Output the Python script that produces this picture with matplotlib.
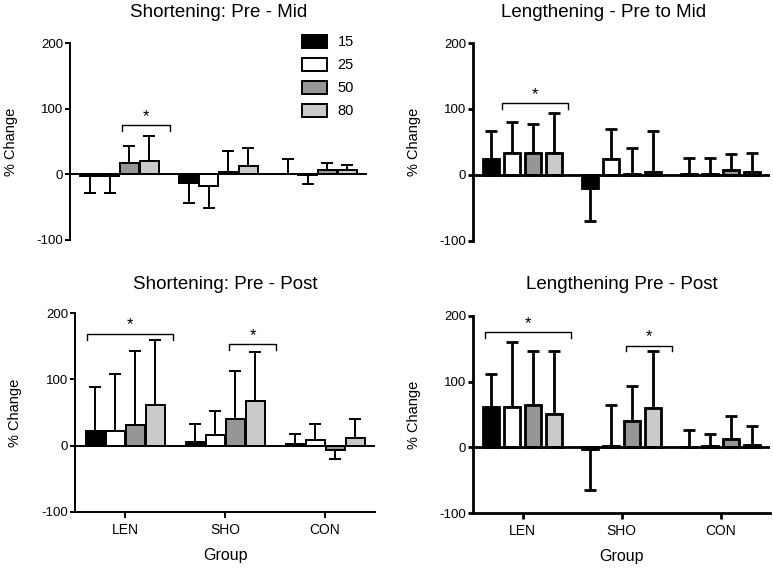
import matplotlib
matplotlib.use('Agg')
import matplotlib.pyplot as plt
import numpy as np

plt.rcParams['font.family'] = ['Liberation Sans', 'DejaVu Sans']
plt.rcParams['axes.unicode_minus'] = False

groups = ['LEN', 'SHO', 'CON']
intensities = ['15', '25', '50', '80']
colors = ['black', 'white', '#969696', '#cacaca']

# rows = groups (LEN, SHO, CON), columns = intensities (15, 25, 50, 80)
sho_mid_mean = [[-3, -3, 17, 20], [-13, -18, 4, 13], [1, -1, 7, 7]]
sho_mid_sd = [[26, 26, 26, 38], [31, 34, 32, 27], [22, 14, 10, 7]]

len_mid_mean = [[24, 34, 34, 34], [-19, 24, 2, 5], [2, 1, 8, 5]]
len_mid_sd = [[42, 46, 44, 60], [51, 45, 39, 61], [23, 25, 24, 29]]

sho_post_mean = [[22, 22, 31, 61], [5, 16, 40, 68], [2, 9, -6, 11]]
sho_post_sd = [[66, 86, 112, 98], [27, 37, 73, 73], [15, 23, 14, 29]]

len_post_mean = [[61, 62, 64, 51], [-3, 2, 40, 60], [0.5, 2, 12, 4]]
len_post_sd = [[51, 98, 83, 95], [62, 63, 54, 86], [25.5, 19, 36, 29]]

# significance brackets: (x start, x end, height)
sho_mid_sig = [(0.025, 0.51, 75)]
len_mid_sig = [(-0.21, 0.455, 109)]
sho_post_sig = [(-0.38, 0.48, 169), (1.04, 1.51, 153)]
len_post_sig = [(-0.38, 0.49, 175), (1.05, 1.51, 155)]

fig = plt.figure(figsize=(7.73, 5.68), dpi=100)
W, H = 773.0, 568.0


def px_axes(l, t, r, b):
    return fig.add_axes([l / W, 1 - b / H, (r - l) / W, (b - t) / H])


def draw_panel(ax, mean, sd, sig, title, title_x, title_pad, bottom, thick):
    lw = 2.0 if thick else 1.4
    if thick:
        pitch, width = 0.213, 0.16
    else:
        pitch, width = 0.2, 0.19
    mean = np.array(mean, dtype=float)
    sd = np.array(sd, dtype=float)
    x = np.arange(len(groups))
    for j in range(len(intensities)):
        xs = x + (j - 1.5) * pitch
        m = mean[:, j]
        up = np.where(m >= 0, sd[:, j], 0)
        down = np.where(m < 0, sd[:, j], 0)
        ax.bar(xs, m, width, color=colors[j], edgecolor='black', linewidth=lw,
               label=intensities[j], zorder=3)
        ax.errorbar(xs, m, yerr=[down, up], fmt='none', ecolor='black',
                    elinewidth=lw, capsize=4, capthick=lw, zorder=2)
    ax.axhline(0, color='black', linewidth=lw, zorder=4)
    ax.set_xlim(-0.5, 2.5)
    ax.set_ylim(-100, 200)
    ax.set_yticks([-100, 0, 100, 200])
    ax.tick_params(axis='y', labelsize=9.5, length=3.5, width=lw, pad=1.5)
    for s in ['top', 'right']:
        ax.spines[s].set_visible(False)
    ax.spines['left'].set_linewidth(lw)
    if bottom:
        ax.spines['bottom'].set_linewidth(lw)
        ax.set_xticks(x)
        ax.set_xticklabels(groups)
        ax.tick_params(axis='x', labelsize=10, length=4, width=lw, pad=4)
        ax.set_xlabel('Group', fontsize=11.5, labelpad=8)
    else:
        ax.spines['bottom'].set_visible(False)
        ax.set_xticks([])
    ax.set_ylabel('% Change', fontsize=10.5)
    ax.yaxis.set_label_coords(-0.175, 0.5)
    ax.set_title(title, fontsize=13.5, pad=title_pad, x=title_x)
    for x0, x1, y in sig:
        ax.plot([x0, x0, x1, x1], [y - 9, y, y, y - 9], color='black',
                linewidth=1.0, zorder=5)
        ax.annotate('*', ((x0 + x1) / 2, y), xytext=(0, 3),
                    textcoords='offset points', ha='center', va='baseline',
                    fontsize=12)


ax1 = px_axes(70, 43, 367, 240)
ax2 = px_axes(473, 43, 770, 241)
ax3 = px_axes(75, 313, 375, 512)
ax4 = px_axes(473, 316, 770, 513)

draw_panel(ax1, sho_mid_mean, sho_mid_sd, sho_mid_sig,
           'Shortening: Pre - Mid', 0.5, 18.5, False, False)
draw_panel(ax2, len_mid_mean, len_mid_sd, len_mid_sig,
           'Lengthening - Pre to Mid', 0.44, 18.5, False, True)
draw_panel(ax3, sho_post_mean, sho_post_sd, sho_post_sig,
           'Shortening: Pre - Post', 0.5, 17, True, False)
draw_panel(ax4, len_post_mean, len_post_sd, len_post_sig,
           'Lengthening Pre - Post', 0.5, 19.5, True, True)

ax1.legend(loc='upper left', bbox_to_anchor=(302 / W, 1 - 35 / H),
           bbox_transform=fig.transFigure, frameon=False, fontsize=10.5,
           handlelength=1.7, handleheight=0.95, handletextpad=0.75,
           labelspacing=0.6, borderpad=0, borderaxespad=0)

fig.savefig('out.png', dpi=100)
